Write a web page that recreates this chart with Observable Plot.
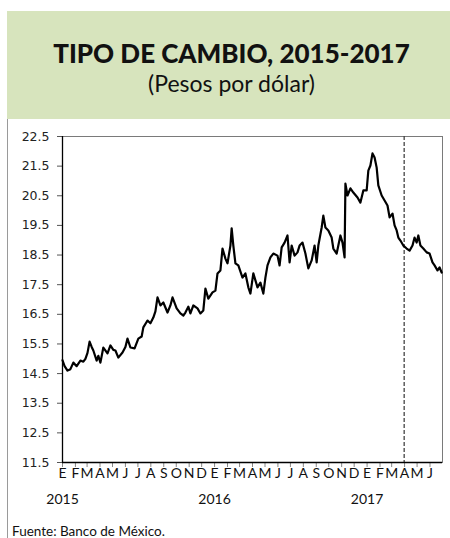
<!DOCTYPE html>
<html><head><meta charset="utf-8">
<script src="https://cdn.jsdelivr.net/npm/d3@7"></script>
<script src="https://cdn.jsdelivr.net/npm/@observablehq/plot@0.6"></script>
<style>
html,body{margin:0;padding:0;background:#fff;width:450px;height:538px;overflow:hidden;position:relative}
#header{position:absolute;left:7px;top:11px;width:443px;height:108px;background:#d7e4bd}
#title{position:absolute;left:10px;width:443px;top:40px;text-align:center;font:900 26px/26px Lato,sans-serif;color:#111;white-space:nowrap}
#subtitle{position:absolute;left:10px;width:443px;top:72px;text-align:center;font:400 23px/23px Lato,sans-serif;color:#111;white-space:nowrap}
#vline{position:absolute;left:7px;top:119px;width:1px;height:419px;background:#9a9a9a}
#chart{position:absolute;left:0;top:119px}
#caption{position:absolute;left:12px;top:523px;font:400 13.5px/16px Lato,sans-serif;color:#111;white-space:nowrap}
</style></head>
<body>
<div id="header"></div>
<div id="title">TIPO DE CAMBIO, 2015-2017</div>
<div id="subtitle">(Pesos por dólar)</div>
<div id="vline"></div>
<div id="chart"></div>
<div id="caption">Fuente: Banco de México.</div>
<script>
// Exchange rate, pesos per dollar (date, value)
const series = [
["2015-01-01",14.95],["2015-01-06",14.75],["2015-01-13",14.6],["2015-01-20",14.65],["2015-01-27",14.87],
["2015-02-04",14.75],["2015-02-13",14.94],["2015-02-20",14.9],["2015-02-25",15.0],["2015-03-02",15.2],
["2015-03-07",15.58],["2015-03-12",15.4],["2015-03-16",15.28],["2015-03-24",14.94],["2015-03-28",15.1],
["2015-04-02",14.87],["2015-04-09",15.38],["2015-04-19",15.18],["2015-04-26",15.45],["2015-05-03",15.3],
["2015-05-08",15.28],["2015-05-15",15.04],["2015-05-25",15.21],["2015-06-01",15.4],["2015-06-06",15.68],
["2015-06-13",15.38],["2015-06-23",15.35],["2015-07-02",15.68],["2015-07-10",15.75],["2015-07-14",16.06],
["2015-07-24",16.29],["2015-07-31",16.2],["2015-08-07",16.39],["2015-08-12",16.6],["2015-08-17",17.07],
["2015-08-24",16.8],["2015-08-31",16.9],["2015-09-10",16.56],["2015-09-17",16.8],["2015-09-22",17.07],
["2015-10-02",16.7],["2015-10-11",16.53],["2015-10-18",16.46],["2015-10-23",16.56],["2015-10-30",16.76],
["2015-11-04",16.53],["2015-11-11",16.8],["2015-11-21",16.7],["2015-11-28",16.53],["2015-12-05",16.63],
["2015-12-10",17.37],["2015-12-17",17.03],["2015-12-27",17.24],["2016-01-03",17.3],["2016-01-08",17.88],
["2016-01-15",17.98],["2016-01-20",18.72],["2016-01-27",18.38],["2016-02-01",18.22],["2016-02-08",18.82],
["2016-02-11",19.4],["2016-02-15",18.82],["2016-02-20",18.22],["2016-02-27",18.15],["2016-03-08",17.74],
["2016-03-15",17.88],["2016-03-22",17.41],["2016-03-27",17.2],["2016-04-03",17.88],["2016-04-13",17.41],
["2016-04-20",17.57],["2016-04-27",17.2],["2016-05-02",17.74],["2016-05-07",18.15],["2016-05-14",18.42],
["2016-05-21",18.55],["2016-05-31",18.48],["2016-06-05",18.15],["2016-06-10",18.76],["2016-06-17",18.92],
["2016-06-24",19.16],["2016-06-29",18.25],["2016-07-04",18.82],["2016-07-11",18.48],["2016-07-18",18.59],
["2016-07-23",18.82],["2016-07-30",18.92],["2016-08-06",18.55],["2016-08-13",18.05],["2016-08-21",18.32],
["2016-08-28",18.82],["2016-09-02",18.25],["2016-09-06",18.82],["2016-09-14",19.43],["2016-09-18",19.83],
["2016-09-23",19.43],["2016-09-30",19.33],["2016-10-08",19.09],["2016-10-12",18.72],["2016-10-20",18.55],
["2016-10-24",18.82],["2016-10-29",19.16],["2016-11-03",18.92],["2016-11-08",18.42],["2016-11-10",20.91],
["2016-11-15",20.51],["2016-11-22",20.75],["2016-11-29",20.61],["2016-12-09",20.44],["2016-12-16",20.27],
["2016-12-23",20.68],["2016-12-31",20.68],["2017-01-04",21.35],["2017-01-09",21.52],["2017-01-14",21.93],
["2017-01-19",21.79],["2017-01-24",21.45],["2017-01-28",20.85],["2017-02-05",20.51],["2017-02-12",20.34],
["2017-02-19",20.17],["2017-02-24",19.77],["2017-03-03",19.9],["2017-03-08",19.5],["2017-03-13",19.33],
["2017-03-17",19.09],["2017-03-22",18.99],["2017-03-29",18.82],["2017-04-06",18.72],["2017-04-13",18.65],
["2017-04-20",18.82],["2017-04-25",19.09],["2017-04-30",18.92],["2017-05-04",19.16],["2017-05-09",18.82],
["2017-05-16",18.72],["2017-05-24",18.59],["2017-05-31",18.55],["2017-06-07",18.25],["2017-06-12",18.15],
["2017-06-19",17.98],["2017-06-24",18.08],["2017-06-29",17.91]
];
const yTicks = [11.5,12.5,13.5,14.5,15.5,16.5,17.5,18.5,19.5,20.5,21.5,22.5];
const monthLetters = ["E","F","M","A","M","J","J","A","S","O","N","D",
                      "E","F","M","A","M","J","J","A","S","O","N","D",
                      "E","F","M","A","M","J"];
const yearLabels = ["2015","2016","2017"];
const yearDates = ["2015-01-01","2016-01-01","2017-01-01"];
const xStart = "2015-01-01", xEnd = "2017-07-01";
const markerDate = "2017-03-31";

const rows = series.map(([d, v]) => ({date: new Date(d), value: v}));
const monthTicks = d3.utcMonth.range(new Date(xStart), new Date(xEnd));
const years = yearDates.map((d, i) => ({date: new Date(d), label: yearLabels[i]}));

const chart = Plot.plot({
  width: 450, height: 395,
  marginTop: 17, marginBottom: 52, marginLeft: 62, marginRight: 8,
  x: {type: "utc", domain: [new Date(xStart), new Date(xEnd)]},
  y: {domain: [11.5, 22.5]},
  style: {background: "transparent", overflow: "visible"},
  marks: [
    Plot.frame({stroke: "#7a7a7a"}),
    Plot.axisY({ticks: yTicks, tickFormat: d => d.toFixed(1), tickSize: 5, tickPadding: 8, label: null,
      fontSize: 12.5, fontFamily: "DejaVu Sans", fill: "#222", stroke: "#555"}),
    Plot.axisX({ticks: monthTicks, tickFormat: () => "", tickSize: 5, stroke: "#888", label: null}),
    Plot.text(monthTicks, {x: d => d, text: (d, i) => monthLetters[i], frameAnchor: "bottom",
      dy: 15, fontSize: 14, fontFamily: "Lato", fill: "#111"}),
    Plot.text(years, {x: "date", text: "label", frameAnchor: "bottom", dy: 41,
      fontSize: 14, fontFamily: "Lato", fill: "#111"}),
    Plot.ruleX([new Date(markerDate)], {stroke: "#444", strokeWidth: 1.3, strokeDasharray: "4,2"}),
    Plot.line(rows, {x: "date", y: "value", stroke: "#000", strokeWidth: 2.2}),
    Plot.ruleY([11.5], {stroke: "#000", strokeWidth: 1.3}),
    Plot.ruleX([new Date(xStart)], {stroke: "#000", strokeWidth: 1.3})
  ]
});
document.getElementById("chart").appendChild(chart);
</script>
</body></html>
